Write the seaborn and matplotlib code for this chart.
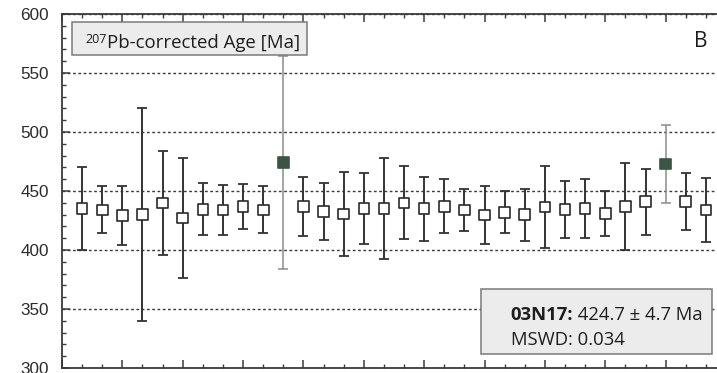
import numpy as np
import pandas as pd
import matplotlib
matplotlib.use("Agg")
import matplotlib.pyplot as plt
from matplotlib.patches import Rectangle
from matplotlib.ticker import MultipleLocator, NullFormatter
import seaborn as sns

# ---------------- data ----------------
spot = list(range(1, 33))
age = [435, 434, 429, 430, 440, 427, 434.5, 434, 437, 434, 474, 437, 432.5, 430.5,
       435, 435, 440, 435, 437, 434, 429.5, 432, 430, 436.5, 434.5, 435, 431, 437,
       441, 473, 441, 434]
err = [35, 20, 25, 90, 44, 51, 22, 21, 19, 20, 90, 25, 24, 35.5,
       30, 43, 31, 27, 23, 18, 24.5, 18, 22, 35, 24, 25, 19, 37,
       28, 33, 24, 27]
rejected = [11, 30]  # spot numbers excluded from the mean
y_ticks = [300, 350, 400, 450, 500, 550, 600]
title_sup = "207"
title_main = "Pb-corrected Age [Ma]"
sample_name = "03N17:"
sample_age = " 424.7 \u00b1 4.7 Ma"
mswd_text = "MSWD: 0.034"
panel_letter = "B"

df = pd.DataFrame({"spot": spot, "age": age, "err": err})
df["status"] = np.where(df["spot"].isin(rejected), "rejected", "accepted")

# ---------------- style ----------------
sns.set_theme(style="ticks")
plt.rcParams["font.family"] = ["Liberation Sans", "DejaVu Sans"]

W, H = 717, 373
fig = plt.figure(figsize=(W / 100, H / 100), dpi=100)
ax = fig.add_axes([62 / W, 5 / H, (726 - 62) / W, (368 - 14) / H])

spine_col = "#3a3a3a"
txt_col = "#1e1e1e"
acc = df[df.status == "accepted"]
rej = df[df.status == "rejected"]

ax.errorbar(acc["spot"], acc["age"], yerr=acc["err"], fmt="none",
            ecolor="#333333", elinewidth=1.4, capsize=3.3, capthick=1.3, zorder=2)
ax.errorbar(rej["spot"], rej["age"], yerr=rej["err"], fmt="none",
            ecolor="#8c8c8c", elinewidth=1.1, capsize=3.3, capthick=1.1, zorder=2)

sns.scatterplot(data=df, x="spot", y="age", hue="status", style="status",
                markers={"accepted": "s", "rejected": "s"},
                palette={"accepted": "white", "rejected": "#3c5443"},
                s=58, linewidth=1.2, ax=ax, legend=False, zorder=3)
coll = ax.collections[-1]
ec = ["#2a2a2a" if s == "accepted" else "#3c5443" for s in df["status"]]
coll.set_edgecolors(ec)

ax.set_xlim(0, 33)
ax.set_ylim(300, 600)
ax.set_xlabel("")
ax.set_ylabel("")

ax.xaxis.set_major_locator(MultipleLocator(3))
ax.xaxis.set_minor_locator(MultipleLocator(1))
ax.xaxis.set_major_formatter(NullFormatter())
ax.set_yticks(y_ticks)
ax.yaxis.set_minor_locator(MultipleLocator(10))
ax.tick_params(axis="both", which="both", direction="in", top=True, right=True,
               color=spine_col)
ax.tick_params(axis="both", which="major", length=6, width=1.1)
ax.tick_params(axis="both", which="minor", length=3, width=1.0)
ax.tick_params(axis="y", labelsize=12.3, labelcolor="#2b2b2b", pad=9.5)

for s in ax.spines.values():
    s.set_color(spine_col)
    s.set_linewidth(1.3)

ax.yaxis.grid(True, which="major", linestyle=(0, (2, 1.8)), linewidth=1.0,
              color="#3a3a3a", zorder=0)
ax.set_axisbelow(True)

# title box
ax.add_patch(Rectangle((0.5, 565.3), 11.67, 28, facecolor="#ececec",
                       edgecolor="#7a7a7a", linewidth=1.1, zorder=4))
ax.text(1.14, 575.0, title_sup, fontsize=9, family="Open Sans",
        color=txt_col, va="baseline", ha="left", zorder=5)
ax.text(2.25, 571.4, title_main, fontsize=13.4, family="Open Sans",
        color=txt_col, va="baseline", ha="left", zorder=5)

# panel letter
ax.text(32.1, 572, panel_letter, fontsize=15, family="Open Sans",
        color=txt_col, va="baseline", ha="right", zorder=5)

# result box
ax.add_patch(Rectangle((20.8, 311.9), 11.5, 55, facecolor="#ececec",
                       edgecolor="#7a7a7a", linewidth=1.1, zorder=4))
t1 = ax.text(22.3, 340.9, sample_name, fontsize=13.3, family="Open Sans",
             fontweight="bold", color=txt_col, va="baseline", ha="left", zorder=5)
ax.annotate(sample_age, xy=(1, 0), xycoords=t1, fontsize=13.3, family="Open Sans",
            color=txt_col, va="bottom", ha="left", zorder=5)
ax.text(22.3, 319.5, mswd_text, fontsize=13.3, family="Open Sans",
        color=txt_col, va="baseline", ha="left", zorder=5)

fig.savefig("out.png", dpi=100)
